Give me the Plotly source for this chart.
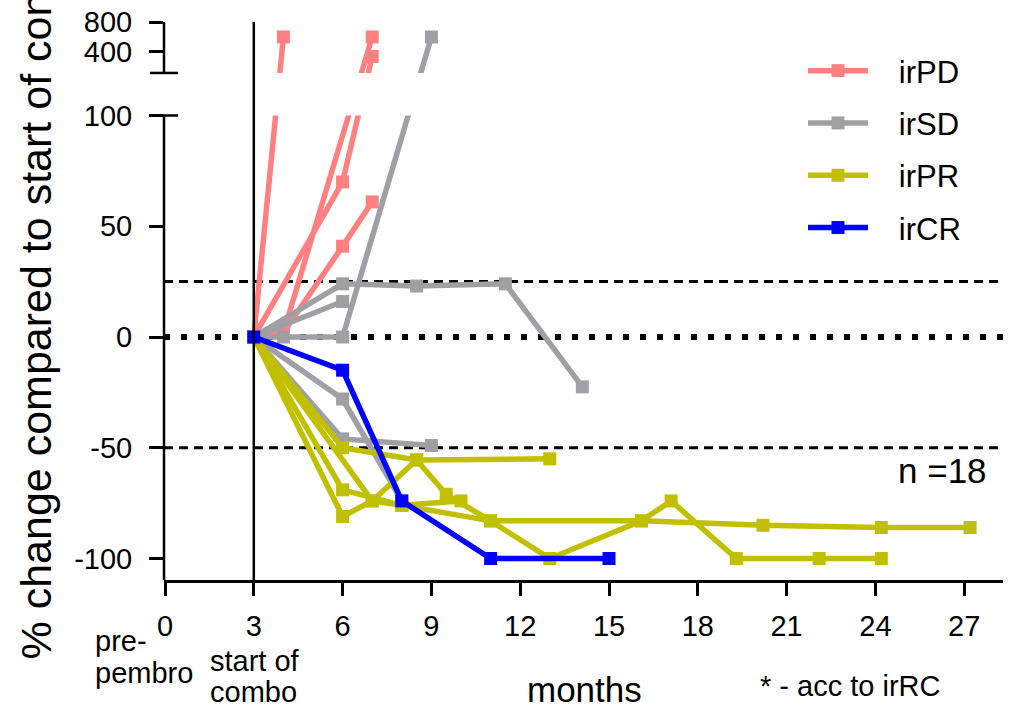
import plotly.graph_objects as go

FONT = "Liberation Sans, Arial, sans-serif"

# ---------------- data: months vs % change ----------------
pd1_months = [3, 4]
pd1_change = [0, 600]
pd2_months = [3, 4, 7]
pd2_change = [0, 2, 600]
pd3_months = [3, 6, 7]
pd3_change = [0, 70, 340]
pd4_months = [3, 4, 6, 7]
pd4_change = [0, 2, 41, 61]

sd1_months = [3, 6, 8.5, 11.5, 14.1]
sd1_change = [0, 24, 23, 24, -22.5]
sd2_months = [3, 6]
sd2_change = [0, 16]
sd3_months = [3, 4, 6, 9]
sd3_change = [0, 0, 0, 600]
sd4_months = [3, 6, 8]
sd4_change = [0, -28, -74]
sd5_months = [3, 6, 9]
sd5_change = [0, -46, -49]

pr1_months = [3, 6, 8.5, 13]
pr1_change = [0, -50, -55.5, -55]
pr2_months = [3, 6, 7, 8.5, 9.5, 11, 13, 16.1, 17.1, 19.3, 22.1, 24.2]
pr2_change = [0, -81, -74, -55.5, -71, -83, -100, -83, -74, -100, -100, -100]
pr3_months = [3, 6, 8, 11, 16.1, 20.2, 24.2, 27.2]
pr3_change = [0, -69, -76, -83, -83, -85, -86, -86]
pr4_months = [3, 7, 8, 10]
pr4_change = [0, -74, -76, -74]

cr1_months = [3, 6, 8, 11, 15]
cr1_change = [0, -15, -74, -100, -100]

x_tick_values = [0, 3, 6, 9, 12, 15, 18, 21, 24, 27]
y_tick_values = [-100, -50, 0, 50, 100, 400, 800]
y_tick_labels = ["-100", "-50", "0", "50", "100", "400", "800"]
threshold_pd = 25
threshold_pr = -50

# ---------------- broken y axis ----------------
LOW_TOP = 100        # top of the lower (linear) segment
UP_BOTTOM = 120      # value at the bottom of the upper segment
UP_TOP = 800
GAP = 19.2           # gap between segments, in lower-axis units
UP_SCALE = 23.0 / (UP_TOP - UP_BOTTOM)
Y_BOTTOM = -109.7


def to_axis(v):
    if v <= LOW_TOP:
        return v
    return LOW_TOP + GAP + (v - UP_BOTTOM) * UP_SCALE


Y_TOP = to_axis(UP_TOP)
BREAK_LO = LOW_TOP
BREAK_HI = LOW_TOP + GAP

COLORS = {"irPD": "#FF8080", "irSD": "#A0A0A4", "irPR": "#C0C000", "irCR": "#0000FF"}
NBSP = "\u00a0"

groups = [
    ("irPD", [(pd1_months, pd1_change), (pd2_months, pd2_change),
              (pd3_months, pd3_change), (pd4_months, pd4_change)]),
    ("irSD", [(sd1_months, sd1_change), (sd2_months, sd2_change),
              (sd3_months, sd3_change), (sd4_months, sd4_change),
              (sd5_months, sd5_change)]),
    ("irPR", [(pr1_months, pr1_change), (pr2_months, pr2_change),
              (pr3_months, pr3_change), (pr4_months, pr4_change)]),
    ("irCR", [(cr1_months, cr1_change)]),
]

fig = go.Figure()
for name, series in groups:
    for i, (mx, cy) in enumerate(series):
        fig.add_trace(go.Scatter(
            x=mx, y=[to_axis(v) for v in cy], mode="lines+markers",
            name=NBSP * 3 + name, legendgroup=name, showlegend=(i == 0),
            line=dict(color=COLORS[name], width=5.5),
            marker=dict(symbol="square", size=13, color=COLORS[name]),
            hoverinfo="skip",
        ))

shapes = []
# reference lines (below data)
shapes.append(dict(type="line", xref="paper", yref="y", x0=0, x1=1,
                   y0=threshold_pd, y1=threshold_pd, layer="below",
                   line=dict(color="black", width=3, dash="9px,6px")))
shapes.append(dict(type="line", xref="paper", yref="y", x0=0, x1=1,
                   y0=threshold_pr, y1=threshold_pr, layer="below",
                   line=dict(color="black", width=3, dash="9px,6px")))
shapes.append(dict(type="line", xref="paper", yref="y", x0=0, x1=1,
                   y0=0, y1=0, layer="below",
                   line=dict(color="black", width=6, dash="6px,11px")))
# gap of the broken axis
shapes.append(dict(type="rect", xref="paper", yref="y", x0=0.003, x1=1,
                   y0=BREAK_LO, y1=BREAK_HI, layer="above",
                   fillcolor="white", line=dict(width=0)))
# vertical line at start of combo
shapes.append(dict(type="line", xref="x", yref="paper", x0=3, x1=3, y0=0, y1=1,
                   layer="above", line=dict(color="black", width=2.5)))
# y axis line segments
shapes.append(dict(type="line", xref="paper", yref="y", x0=0, x1=0,
                   y0=Y_BOTTOM, y1=BREAK_LO, layer="above",
                   line=dict(color="black", width=2.5)))
shapes.append(dict(type="line", xref="paper", yref="y", x0=0, x1=0,
                   y0=BREAK_HI, y1=Y_TOP, layer="above",
                   line=dict(color="black", width=2.5)))
# break marks
for yb in (BREAK_LO, BREAK_HI):
    shapes.append(dict(type="line", xref="paper", yref="y", x0=-0.0167, x1=0.0167,
                       y0=yb, y1=yb, layer="above",
                       line=dict(color="black", width=2.5)))

W, H = 1014, 712
ML, MR, MT, MB = 164, 11, 22, 132
PW, PH = W - ML - MR, H - MT - MB


def px(xp):
    return (xp - ML) / PW


def py(yp):
    return (H - MB - yp) / PH


annotations = [
    dict(text="% change compared to start of con", textangle=-90,
         x=px(35), y=py(662), xanchor="center", yanchor="bottom",
         font=dict(size=43, color="black", family=FONT)),
    dict(text="pre-", x=px(93), y=py(641), xanchor="left", yanchor="middle",
         font=dict(size=29, color="black", family=FONT)),
    dict(text="pembro", x=px(93), y=py(673), xanchor="left", yanchor="middle",
         font=dict(size=29, color="black", family=FONT)),
    dict(text="start of", x=px(208), y=py(661), xanchor="left", yanchor="middle",
         font=dict(size=29, color="black", family=FONT)),
    dict(text="combo", x=px(208), y=py(692), xanchor="left", yanchor="middle",
         font=dict(size=29, color="black", family=FONT)),
    dict(text="months", x=px(584), y=py(689), xanchor="center", yanchor="middle",
         font=dict(size=35, color="black", family=FONT)),
    dict(text="* - acc to irRC", x=px(850), y=py(686), xanchor="center", yanchor="middle",
         font=dict(size=29, color="black", family=FONT)),
    dict(text="n =18", x=px(942), y=py(470), xanchor="center", yanchor="middle",
         font=dict(size=35, color="black", family=FONT)),
]
for a in annotations:
    a.update(xref="paper", yref="paper", showarrow=False)

fig.update_layout(
    width=W, height=H,
    margin=dict(l=ML, r=MR, t=MT, b=MB, pad=0, autoexpand=False),
    paper_bgcolor="white", plot_bgcolor="white",
    font=dict(family=FONT, color="black"),
    shapes=shapes, annotations=annotations,
    showlegend=True,
    legend=dict(x=px(803), y=py(44), xanchor="left", yanchor="top",
                font=dict(size=31, color="black", family=FONT),
                bgcolor="rgba(0,0,0,0)", itemwidth=60, tracegroupgap=9),
    xaxis=dict(range=[-1 / 29.6, -1 / 29.6 + PW / 29.6], tickvals=x_tick_values,
               showline=True, linecolor="black", linewidth=2.5, automargin=False,
               ticks="outside", ticklen=13, tickwidth=2.5, tickcolor="black",
               tickfont=dict(size=29, family=FONT, color="black"),
               ticklabelstandoff=5, showgrid=False, zeroline=False),
    yaxis=dict(range=[Y_BOTTOM, Y_TOP], automargin=False,
               tickvals=[to_axis(v) for v in y_tick_values], ticktext=y_tick_labels,
               showline=False, ticks="outside", ticklen=14, tickwidth=2.5,
               tickcolor="black", tickfont=dict(size=29, family=FONT, color="black"),
               ticklabelstandoff=11, showgrid=False, zeroline=False),
)

fig.write_html(
    "out.html",
    config={"displayModeBar": False, "responsive": False},
    post_script="document.documentElement.style.margin='0';"
                "document.body.style.margin='0';document.body.style.overflow='hidden';",
)
